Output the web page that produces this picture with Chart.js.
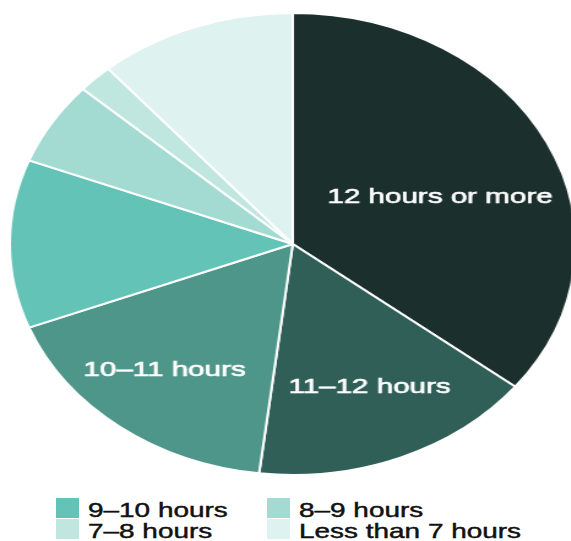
<!DOCTYPE html>
<html><head><meta charset="utf-8">
<script src="https://cdn.jsdelivr.net/npm/chart.js@4"></script>
<style>
html,body{margin:0;padding:0;background:#fff;overflow:hidden;width:571px;height:541px;}
#frame{position:absolute;left:0;top:0;width:571px;height:541px;overflow:hidden;}
#wrap{position:absolute;left:0;top:0;width:480px;height:490px;transform:scaleX(1.225);transform-origin:0 0;}
#legend{position:absolute;left:56px;top:499px;font-family:"Liberation Sans",Arial,Helvetica,sans-serif;font-size:21px;color:#111;}
.item{position:absolute;height:21px;line-height:21px;white-space:nowrap;}
.box{position:absolute;left:0;top:-1px;width:23px;height:20px;}
.txt{position:absolute;left:32px;top:0;transform:scaleX(1.33);transform-origin:0 0;-webkit-text-stroke:0.45px #111;}
</style></head><body>
<div id="frame">
<div id="wrap"><canvas id="c" width="480" height="490"></canvas></div>
<div id="legend"></div>
</div>
<script>
const categories = ["12 hours or more", "11–12 hours", "10–11 hours", "9–10 hours", "8–9 hours", "7–8 hours", "Less than 7 hours"];
const shares = [35.6, 16.3, 17.2, 11.8, 5.8, 2.0, 11.3];
const colors = ["#1b302d", "#305f58", "#4f968a", "#62c3b6", "#a3dbd3", "#bfe6df", "#def2ef"];
const insideLabels = [0, 1, 2];
const legendEntries = [3, 4, 5, 6];

const labelPlacement = [
  {r: 0.56, dAngle: 4.2},
  {r: 0.672, dAngle: -1.3},
  {r: 0.705, dAngle: 2.2}
];

const sliceLabels = {
  id: 'sliceLabels',
  afterDatasetsDraw(chart, args, opts) {
    const meta = chart.getDatasetMeta(0);
    const ctx = chart.ctx;
    insideLabels.forEach((idx, k) => {
      const arc = meta.data[idx];
      const p = arc.getProps(['x','y','startAngle','endAngle','outerRadius'], true);
      const pl = labelPlacement[k];
      const a = (p.startAngle + p.endAngle) / 2 + pl.dAngle * Math.PI / 180;
      const r = p.outerRadius * pl.r;
      const px = p.x + Math.cos(a) * r, py = p.y + Math.sin(a) * r;
      ctx.save();
      ctx.translate(px, py);
      ctx.scale(opts.stretch, 1);
      ctx.font = opts.font;
      ctx.fillStyle = '#ffffff';
      ctx.strokeStyle = '#ffffff';
      ctx.lineWidth = 0.6;
      ctx.textAlign = 'center';
      ctx.textBaseline = 'middle';
      ctx.fillText(categories[idx], 0, 1);
      ctx.strokeText(categories[idx], 0, 1);
      ctx.restore();
    });
  }
};

new Chart(document.getElementById('c'), {
  type: 'pie',
  data: {
    labels: categories,
    datasets: [{
      data: shares,
      backgroundColor: colors,
      borderColor: '#ffffff',
      borderWidth: 2,
      hoverOffset: 0
    }]
  },
  options: {
    responsive: false,
    animation: false,
    layout: {padding: {left: 7, right: 9, top: 12, bottom: 14}},
    plugins: {
      legend: {display: false},
      tooltip: {enabled: false},
      title: {display: false},
      sliceLabels: {font: '21px "Liberation Sans", Arial, sans-serif', stretch: 1.15}
    }
  },
  plugins: [sliceLabels]
});

const legend = document.getElementById('legend');
const colX = [0, 211];
legendEntries.forEach((idx, i) => {
  const item = document.createElement('div');
  item.className = 'item';
  item.style.left = colX[i % 2] + 'px';
  item.style.top = (Math.floor(i / 2) * 21) + 'px';
  const box = document.createElement('div');
  box.className = 'box';
  box.style.background = colors[idx];
  const txt = document.createElement('span');
  txt.className = 'txt';
  txt.textContent = categories[idx];
  item.appendChild(box);
  item.appendChild(txt);
  legend.appendChild(item);
});
</script>
</body></html>
